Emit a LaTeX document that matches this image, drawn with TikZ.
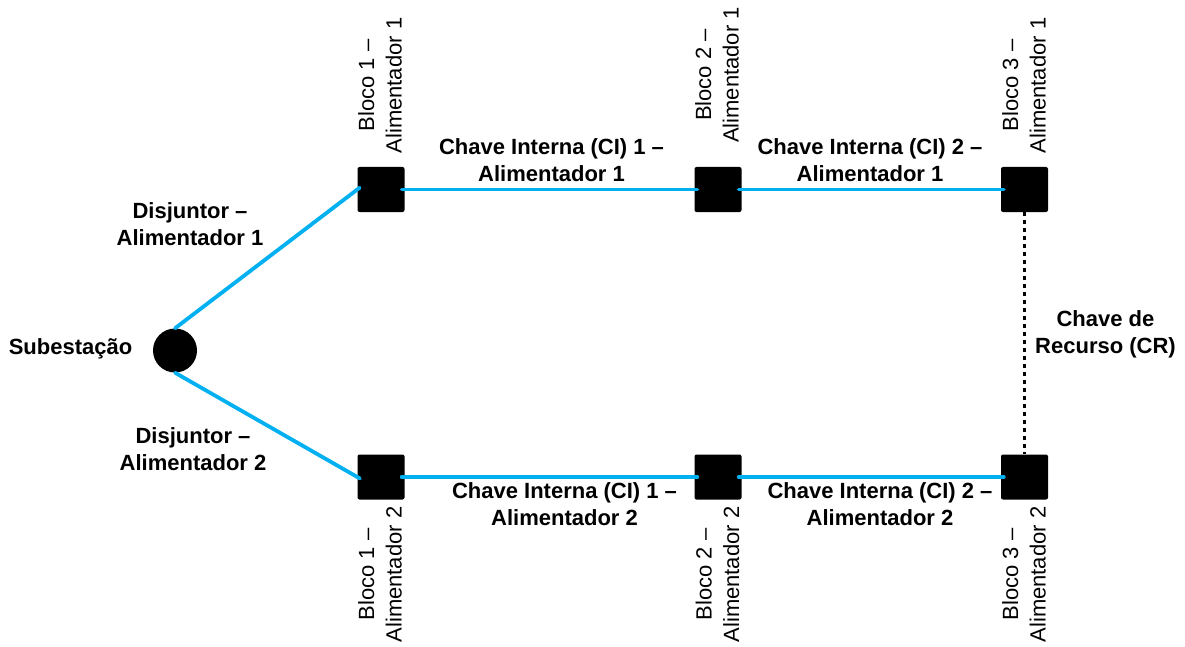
\documentclass[tikz,border=0pt]{standalone}
\usepackage{fontspec}
\setmainfont{Liberation Sans}
\definecolor{feedblue}{RGB}{0,176,240}
\begin{document}
\begin{tikzpicture}[x=1pt,y=-1pt,
  block/.style={fill=black, minimum width=47pt, minimum height=45pt, rounded corners=2pt, inner sep=0pt},
  station/.style={circle, fill=black, minimum size=44pt, inner sep=0pt},
  feeder/.style={draw=feedblue, line width=3.8pt, line cap=round, shorten <=-3pt, shorten >=-3pt},
  tie/.style={draw=black, line width=2.6pt, dash pattern=on 4pt off 4pt},
  lbl/.style={font=\fontsize{22}{27}\selectfont\bfseries, align=center, inner sep=0pt},
  blk/.style={font=\fontsize{22}{27.5}\selectfont, align=center, inner sep=0pt, rotate=90},
]
\useasboundingbox (0,0) rectangle (1185,647);

% substation and blocks
\node[station] (sub) at (175,350.5) {};
\node[block] (a1) at (381,189.5) {};
\node[block] (a2) at (718,189.5) {};
\node[block] (a3) at (1024.5,189.5) {};
\node[block] (b1) at (381,477) {};
\node[block] (b2) at (718,477) {};
\node[block] (b3) at (1024.5,477) {};

% feeders
\draw[feeder, shorten <=0pt] (sub.north) -- (a1.west);
\draw[feeder, shorten <=0pt] (sub.south) -- (b1.west);
\draw[feeder] (a1.east) -- (a2.west);
\draw[feeder] (a2.east) -- (a3.west);
\draw[feeder] (b1.east) -- (b2.west);
\draw[feeder] (b2.east) -- (b3.west);
% tie switch
\draw[tie] (a3.south) -- (b3.north);

% labels
\node[lbl, anchor=base] (lsub) at (70.5,354) {Subestação};
\node[lbl] (ld1) at (190,224.6) {Disjuntor –\\Alimentador 1};
\node[lbl] (ld2) at (193,449.6) {Disjuntor –\\Alimentador 2};
\node[lbl] (lc11) at (551.5,160.5) {Chave Interna (CI) 1 –\\Alimentador 1};
\node[lbl] (lc21) at (870,160.5) {Chave Interna (CI) 2 –\\Alimentador 1};
\node[lbl] (lc12) at (564.5,504) {Chave Interna (CI) 1 –\\Alimentador 2};
\node[lbl] (lc22) at (880,504) {Chave Interna (CI) 2 –\\Alimentador 2};
\node[lbl] (lcr) at (1105.5,334) {Chave de\\Recurso (CR)};

\node[blk] (ta1) at (380,85.5) {Bloco 1 –\\Alimentador 1};
\node[blk] (ta2) at (717,75) {Bloco 2 –\\Alimentador 1};
\node[blk] (ta3) at (1024,85.5) {Bloco 3 –\\Alimentador 1};
\node[blk] (tb1) at (380,574.5) {Bloco 1 –\\Alimentador 2};
\node[blk] (tb2) at (717.5,574.5) {Bloco 2 –\\Alimentador 2};
\node[blk] (tb3) at (1024,574.5) {Bloco 3 –\\Alimentador 2};
\end{tikzpicture}
\end{document}
